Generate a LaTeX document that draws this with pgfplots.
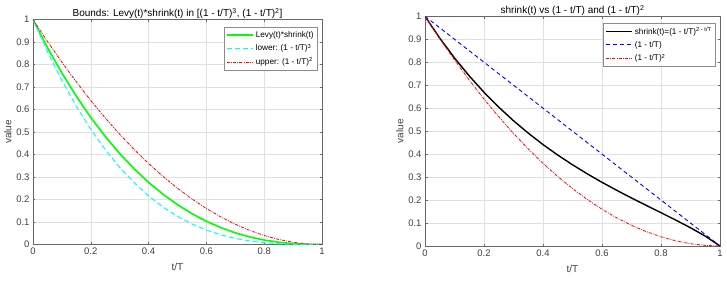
\documentclass[border=0pt]{standalone}
\usepackage{fontspec}
\setmainfont{Liberation Sans}
\usepackage{pgfplots}
\pgfplotsset{compat=1.18}
\usepackage{pgfplotstable}

% t/T, Levy*shrink, (1-t/T)^3, (1-t/T)^2, (1-t/T), shrink
\pgfplotstableread{
t     ls       lo        up      lin   sh
0.00  1.0000   1.000000  1.0000  1.00  1.0000
0.05  0.8756   0.857375  0.9025  0.95  0.9048
0.10  0.7620   0.729000  0.8100  0.90  0.8186
0.15  0.6586   0.614125  0.7225  0.85  0.7403
0.20  0.5648   0.512000  0.6400  0.80  0.6692
0.25  0.4802   0.421875  0.5625  0.75  0.6044
0.30  0.4042   0.343000  0.4900  0.70  0.5453
0.35  0.3363   0.274625  0.4225  0.65  0.4913
0.40  0.2760   0.216000  0.3600  0.60  0.4416
0.45  0.2230   0.166375  0.3025  0.55  0.3959
0.50  0.1768   0.125000  0.2500  0.50  0.3536
0.55  0.1369   0.091125  0.2025  0.45  0.3142
0.60  0.1031   0.064000  0.1600  0.40  0.2772
0.65  0.0748   0.042875  0.1225  0.35  0.2424
0.70  0.0517   0.027000  0.0900  0.30  0.2090
0.75  0.0335   0.015625  0.0625  0.25  0.1768
0.80  0.0197   0.008000  0.0400  0.20  0.1450
0.85  0.0100   0.003375  0.0225  0.15  0.1128
0.90  0.0038   0.001000  0.0100  0.10  0.0794
0.95  0.0007   0.000125  0.0025  0.05  0.0430
1.00  0.0000   0.000000  0.0000  0.00  0.0000
}\curves

\definecolor{axgray}{rgb}{0.15,0.15,0.15}
\definecolor{ticktext}{rgb}{0.25,0.25,0.25}
\definecolor{gridgray}{rgb}{0.88,0.88,0.88}
\definecolor{legframe}{rgb}{0.55,0.55,0.55}
\definecolor{cgreen}{rgb}{0,1,0}
\definecolor{ccyan}{rgb}{0,1,1}
\definecolor{cred}{rgb}{1,0,0}
\definecolor{cblue}{rgb}{0,0,1}

\pgfplotsset{
  panel/.style={
    scale only axis,
    anchor=south west,
    xmin=0, xmax=1, ymin=0, ymax=1,
    xtick={0,0.2,...,1.0}, ytick={0,0.1,...,1.0},
    xticklabels={0,0.2,0.4,0.6,0.8,1},
    yticklabels={0,0.1,0.2,0.3,0.4,0.5,0.6,0.7,0.8,0.9,1},
    grid=major,
    major grid style={gridgray, line width=0.5pt},
    axis line style={axgray!70, line width=0.5pt},
    tick style={axgray!70, line width=0.5pt},
    tick align=inside,
    major tick length=2.5pt,
    tick label style={font=\fontsize{9.5}{11}\selectfont, text=ticktext},
    label style={font=\fontsize{10}{12}\selectfont, text=ticktext},
    title style={font=\fontsize{10}{12}\selectfont, text=black},
    xlabel={t/T}, ylabel={value},
    xlabel style={yshift=-2pt},
    ylabel style={yshift=-2pt},
    /pgf/number format/assume math mode=true,
    legend style={
      draw=legframe, fill=white, line width=0.5pt,
      font=\fontsize{8.2}{9.5}\selectfont, text=black,
      row sep=1.5pt, inner xsep=2pt, inner ysep=2pt,
      legend cell align=left,
    },
    legend image code/.code={
      \draw[##1] (0pt,0pt) -- (26pt,0pt);
    },
  },
}

\begin{document}
\begin{tikzpicture}
\useasboundingbox (0pt,0pt) rectangle (727pt,281pt);

\begin{axis}[panel,
  at={(33pt,36.5pt)}, width=289pt, height=225pt,
  title={Bounds: Levy(t)*shrink(t) in [(1 - t/T)\textsuperscript{3}, (1 - t/T)\textsuperscript{2}]},
  title style={yshift=-9pt},
  legend style={at={(0.986,0.967)}, anchor=north east},
]
\addplot[cgreen, line width=1.6pt] table[x=t, y=ls] {\curves};
\addlegendentry{Levy(t)*shrink(t)}
\addplot[ccyan, line width=1.0pt, dash pattern=on 5pt off 3pt] table[x=t, y=lo] {\curves};
\addlegendentry{lower: (1 - t/T)\textsuperscript{3}}
\addplot[cred, line width=0.8pt, dash pattern=on 3pt off 1.2pt on 0.8pt off 1.2pt] table[x=t, y=up] {\curves};
\addlegendentry{upper: (1 - t/T)\textsuperscript{2}}
\end{axis}

\begin{axis}[panel,
  at={(425pt,35pt)}, width=295pt, height=229.7pt,
  title={shrink(t) vs (1 - t/T) and (1 - t/T)\textsuperscript{2}},
  title style={yshift=-9pt},
  legend style={at={(0.986,0.971)}, anchor=north east},
]
\addplot[black, line width=1.4pt] table[x=t, y=sh] {\curves};
\addlegendentry{shrink(t)=(1 - t/T)\textsuperscript{2 - t/T}}
\addplot[cblue, line width=0.9pt, dash pattern=on 4pt off 3pt] table[x=t, y=lin] {\curves};
\addlegendentry{(1 - t/T)}
\addplot[cred, line width=0.8pt, dash pattern=on 3pt off 1.2pt on 0.8pt off 1.2pt] table[x=t, y=up] {\curves};
\addlegendentry{(1 - t/T)\textsuperscript{2}}
\end{axis}
\end{tikzpicture}
\end{document}
